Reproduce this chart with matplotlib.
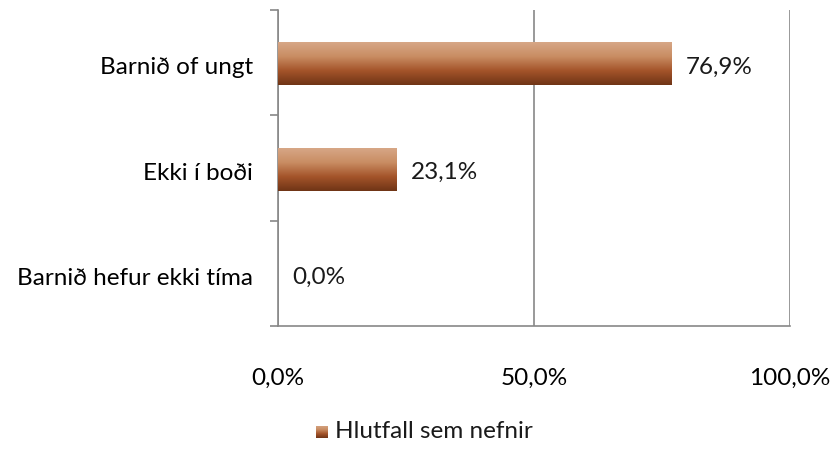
import numpy as np
import matplotlib.pyplot as plt
from matplotlib.colors import LinearSegmentedColormap

categories = ["Barnið of ungt", "Ekki í boði", "Barnið hefur ekki tíma"]
values = [76.9, 23.1, 0.0]
xticks = [0, 50, 100]
xticklabels = ["0,0%", "50,0%", "100,0%"]
series_name = "Hlutfall sem nefnir"

plt.rcParams['font.family'] = ['Lato', 'DejaVu Sans']
fs = 17.5

# brown vertical gradient (light on top, dark at bottom)
cmap = LinearSegmentedColormap.from_list(
    "brown", ["#d7a787", "#c98d63", "#a4542a", "#6f3416"])
grad = np.linspace(0, 1, 256).reshape(-1, 1)

fig = plt.figure(figsize=(8.36, 4.5), dpi=100)
ax = fig.add_axes([278 / 836, 1 - 326 / 450, 512 / 836, 316 / 450])

ypos = np.arange(len(categories))[::-1]
h = 0.4
for y, v in zip(ypos, values):
    yc = y - 0.015
    if v > 0:
        ax.imshow(grad, cmap=cmap, aspect='auto', interpolation='bilinear',
                  extent=[0, v, yc - h / 2, yc + h / 2], origin='upper', zorder=3)
    ax.text(v + 2.8, y - 0.04, f"{v:.1f}".replace(".", ",") + "%", va='center',
            ha='left', fontsize=fs, color='#1a1a1a')

ax.set_xlim(0, 100)
ax.set_ylim(-0.5, len(categories) - 0.5)
ax.set_xticks(xticks)
ax.set_xticklabels(xticklabels, fontsize=fs)
ax.set_yticks(ypos - 0.03)
ax.set_yticklabels(categories, fontsize=fs)
ax.set_yticks(np.arange(-0.5, len(categories)), minor=True)
ax.tick_params(axis='y', which='major', length=0, pad=18)
ax.tick_params(axis='y', which='minor', length=6, color='#888888', width=1.2)
ax.tick_params(axis='x', length=0, pad=30)

ax.grid(axis='x', color='#888888', linewidth=1.2, zorder=0)
for s in ['top', 'right']:
    ax.spines[s].set_visible(False)
for s in ['left', 'bottom']:
    ax.spines[s].set_color('#888888')
    ax.spines[s].set_linewidth(1.2)

# legend: small gradient square plus label
lax = fig.add_axes([316 / 836, 1 - 438 / 450, 12 / 836, 12 / 450])
lax.imshow(grad, cmap=cmap, aspect='auto', extent=[0, 1, 0, 1])
lax.axis('off')
fig.text(335 / 836, 1 - 432 / 450, series_name, fontsize=fs, va='center',
         ha='left', color='#1a1a1a')

fig.savefig("out.png", dpi=100)
